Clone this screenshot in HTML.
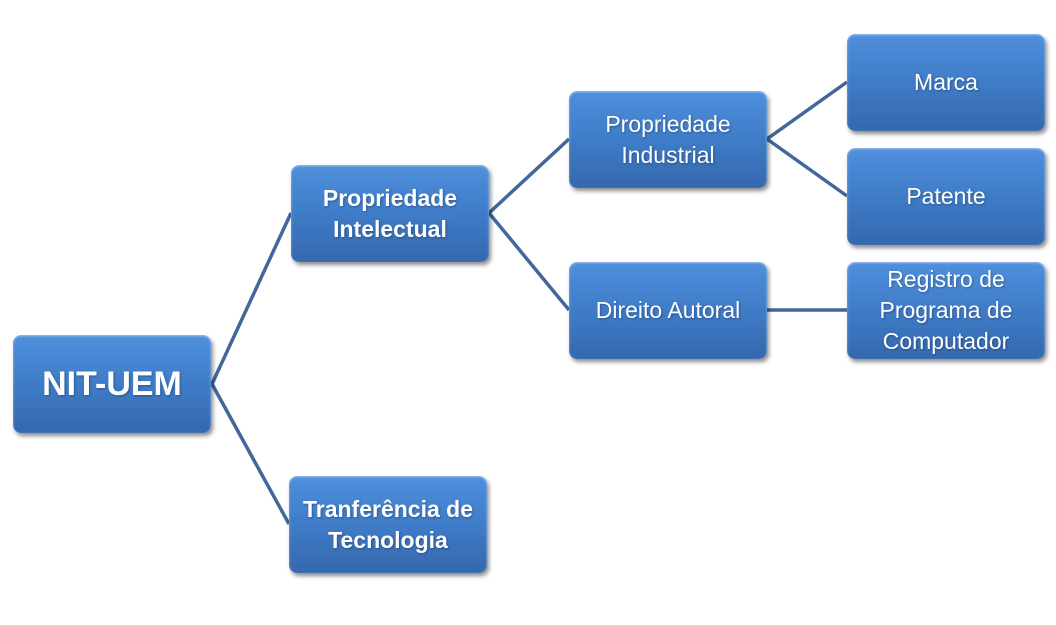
<!DOCTYPE html>
<html><head><meta charset="utf-8"><style>
body{margin:0;width:1056px;height:625px;background:#fff;position:relative;overflow:hidden;font-family:"Liberation Sans",sans-serif}
.b{position:absolute;width:198px;height:97px;border-radius:8px;background:linear-gradient(#4f8fdc 0%,#3f7cc8 50%,#3568ad 100%);box-shadow:2px 3px 4px rgba(0,0,0,.45),inset 0 1px 2px rgba(255,255,255,.5);color:#fff;display:flex;align-items:center;justify-content:center;text-align:center;font-size:23px;line-height:31px;text-shadow:1px 1px 2px rgba(0,0,0,.3)}
.bold{font-weight:bold}
svg{position:absolute;left:0;top:0}
</style></head><body>
<svg width="1056" height="625"><g stroke="#41679b" stroke-width="3.5" fill="none">
<line x1="212" y1="384" x2="291" y2="213"/>
<line x1="212" y1="384" x2="289" y2="524"/>
<line x1="489" y1="213" x2="569" y2="139"/>
<line x1="489" y1="213" x2="569" y2="310"/>
<line x1="767" y1="139" x2="847" y2="82"/>
<line x1="767" y1="139" x2="847" y2="196"/>
<line x1="767" y1="310" x2="847" y2="310"/>
</g></svg>
<div class="b bold" style="left:13px;top:335px;height:98px;font-size:34px">NIT-UEM</div>
<div class="b bold" style="left:291px;top:165px">Propriedade<br>Intelectual</div>
<div class="b bold" style="left:289px;top:476px">Tranferência de<br>Tecnologia</div>
<div class="b" style="left:569px;top:91px">Propriedade<br>Industrial</div>
<div class="b" style="left:569px;top:262px">Direito Autoral</div>
<div class="b" style="left:847px;top:34px">Marca</div>
<div class="b" style="left:847px;top:148px">Patente</div>
<div class="b" style="left:847px;top:262px">Registro de<br>Programa de<br>Computador</div>
</body></html>
